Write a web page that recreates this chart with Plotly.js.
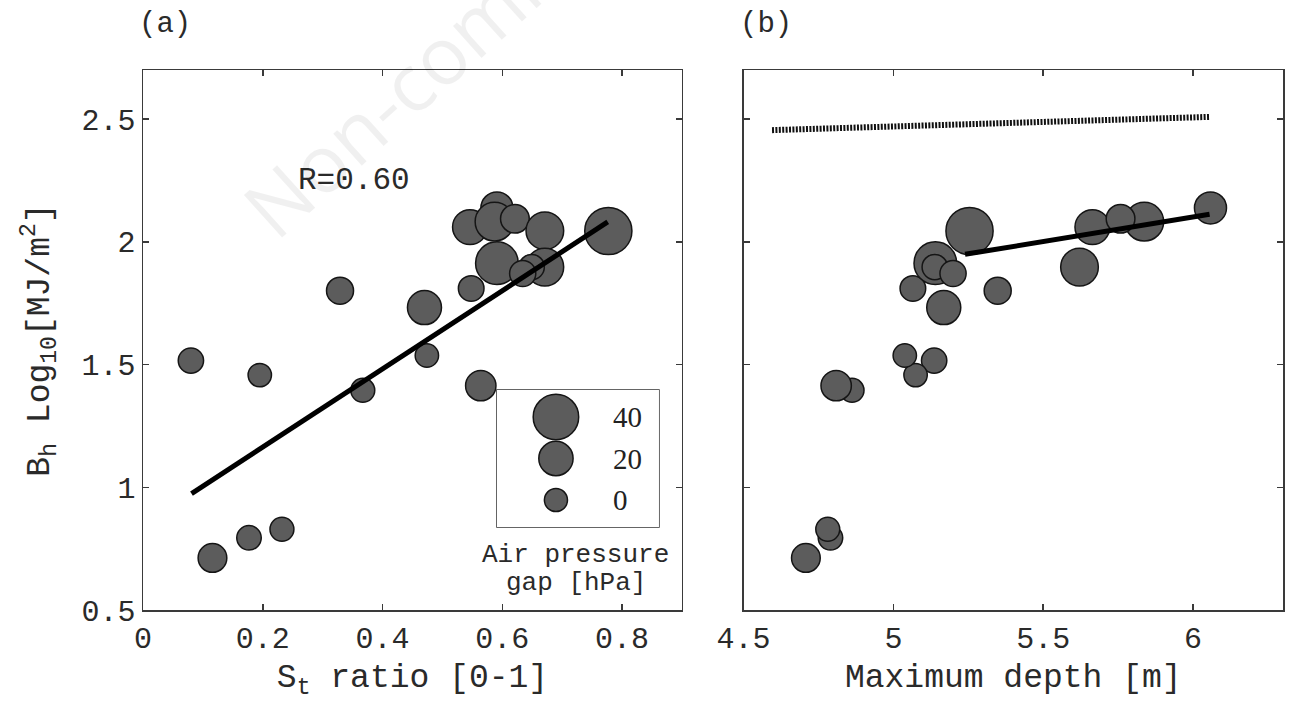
<!DOCTYPE html>
<html><head><meta charset="utf-8">
<script src="https://cdn.plot.ly/plotly-3.0.1.min.js"></script>
<style>html,body{margin:0;padding:0;background:#fff}#chart{width:1293px;height:703px}</style>
</head><body><div id="chart"></div>
<script>
// ---- data ----
const stRatio     = [0.080, 0.116, 0.177, 0.195, 0.232, 0.329, 0.367, 0.470, 0.474, 0.548, 0.546, 0.564, 0.591, 0.587, 0.621, 0.591, 0.671, 0.671, 0.649, 0.634, 0.777];
const bhLog       = [1.516, 0.712, 0.794, 1.457, 0.829, 1.801, 1.395, 1.732, 1.537, 1.810, 2.060, 1.414, 2.138, 2.082, 2.094, 1.913, 2.045, 1.897, 1.897, 1.871, 2.044];
const maxDepth    = [5.136, 4.708, 4.790, 5.074, 4.781, 5.348, 4.862, 5.168, 5.038, 5.065, 5.664, 4.809, 6.058, 5.837, 5.758, 5.140, 5.250, 5.621, 5.138, 5.199, 5.254];
const pressureGap = [4, 10, 2.5, 0.5, 1.5, 7, 1.5, 19.5, 0.5, 4.5, 21, 13, 16, 28, 10, 35, 26, 26, 4, 5.5, 43];

const fitA_x = [0.081, 0.776];
const fitA_y = [0.974, 2.081];
const fitB_x = [5.239, 6.055];
const fitB_y = [1.949, 2.112];
const refB_x = [4.595, 6.056];
const refB_y = [2.455, 2.509];

const legendGaps   = [40, 20, 0];
const legendLabels = ['40', '20', '0'];

const xTicksA = [0, 0.2, 0.4, 0.6, 0.8];
const xTickTextA = ['0', '0.2', '0.4', '0.6', '0.8'];
const xTicksB = [4.5, 5, 5.5, 6];
const xTickTextB = ['4.5', '5', '5.5', '6'];
const yTicks = [0.5, 1, 1.5, 2, 2.5];
const yTickText = ['0.5', '1', '1.5', '2', '2.5'];

// ---- styling ----
const mono = 'Liberation Mono, Courier New, monospace';
const markerFill = '#5c5c5c';
const sizeOf = g => 2 * (12.3 + 0.28 * g) - 1.5;   // diameter in px for a pressure gap
const sizes = pressureGap.map(sizeOf);
const markerStyle = {color: markerFill, size: sizes, sizemode: 'diameter', line: {color: '#151515', width: 1.5}, opacity: 1};

const axisBase = {
  showline: true, linecolor: '#3a3a3a', linewidth: 1.5, mirror: 'ticks',
  ticks: 'inside', ticklen: 6, tickwidth: 1.5, tickcolor: '#3a3a3a',
  showgrid: false, zeroline: false, fixedrange: true,
  tickfont: {family: mono, size: 30, color: '#2a2a2a'}
};

const traces = [
  {x: stRatio, y: bhLog, xaxis: 'x', yaxis: 'y', type: 'scatter', mode: 'markers', marker: markerStyle, hoverinfo: 'skip'},
  {x: fitA_x, y: fitA_y, xaxis: 'x', yaxis: 'y', type: 'scatter', mode: 'lines', line: {color: '#000', width: 5}, hoverinfo: 'skip'},
  {x: maxDepth, y: bhLog, xaxis: 'x2', yaxis: 'y2', type: 'scatter', mode: 'markers', marker: markerStyle, hoverinfo: 'skip'},
  {x: fitB_x, y: fitB_y, xaxis: 'x2', yaxis: 'y2', type: 'scatter', mode: 'lines', line: {color: '#000', width: 5}, hoverinfo: 'skip'},
  {x: refB_x, y: refB_y, xaxis: 'x2', yaxis: 'y2', type: 'scatter', mode: 'lines', line: {color: '#111', width: 6, dash: '2px,1.4px'}, hoverinfo: 'skip'},
  {x: legendGaps.map(() => 0.364), y: legendGaps, xaxis: 'x3', yaxis: 'y3', type: 'scatter', mode: 'markers',
   marker: {color: markerFill, size: legendGaps.map(sizeOf), sizemode: 'diameter', line: {color: '#151515', width: 1.5}, opacity: 1}, hoverinfo: 'skip'}
];

const annotations = [
  {text: '(a)', xref: 'paper', yref: 'paper', x: 0.0193, y: 1.085, showarrow: false, xanchor: 'center', yanchor: 'middle', font: {family: mono, size: 29, color: '#2a2a2a'}},
  {text: '(b)', xref: 'paper', yref: 'paper', x: 0.5465, y: 1.085, showarrow: false, xanchor: 'center', yanchor: 'middle', font: {family: mono, size: 29, color: '#2a2a2a'}},
  {text: 'R=0.60', xref: 'x', yref: 'y', x: 0.352, y: 2.248, showarrow: false, xanchor: 'center', yanchor: 'middle', font: {family: mono, size: 31, color: '#2a2a2a'}},
  {text: 'Air pressure', xref: 'paper', yref: 'paper', x: 0.3798, y: 0.1019, showarrow: false, xanchor: 'center', yanchor: 'middle', font: {family: mono, size: 26, color: '#2a2a2a'}},
  {text: 'gap [hPa]', xref: 'paper', yref: 'paper', x: 0.3798, y: 0.05, showarrow: false, xanchor: 'center', yanchor: 'middle', font: {family: mono, size: 26, color: '#2a2a2a'}},
  {text: 'Non-commercial', xref: 'paper', yref: 'paper', x: 0.30, y: 1.1056, showarrow: false, xanchor: 'center', yanchor: 'middle', textangle: -42, font: {family: 'Open Sans, sans-serif', size: 80, color: 'rgba(0,0,0,0.06)'}}
];
legendGaps.forEach((g, i) => annotations.push({
  text: legendLabels[i], xref: 'x3', yref: 'y3', x: 0.704, y: g, showarrow: false, xanchor: 'left', yanchor: 'middle',
  font: {family: 'Liberation Serif, Times New Roman, serif', size: 29, color: '#222'}
}));

const layout = {
  width: 1293, height: 703,
  margin: {l: 143, r: 10, t: 70, b: 93},
  paper_bgcolor: '#fff', plot_bgcolor: '#fff',
  showlegend: false,
  font: {family: mono, color: '#222'},
  xaxis: Object.assign({}, axisBase, {domain: [0, 0.4728], range: [0, 0.9], anchor: 'y', tickvals: xTicksA, ticktext: xTickTextA,
    title: {text: 'S<sub>t</sub> ratio [0-1]', font: {family: mono, size: 33, color: '#2a2a2a'}, standoff: 8}}),
  yaxis: Object.assign({}, axisBase, {domain: [0, 1], range: [0.5, 2.7], anchor: 'x', tickvals: yTicks, ticktext: yTickText,
    title: {text: 'B<sub>h</sub> Log<sub>10</sub>[MJ/m<sup>2</sup>]', font: {family: mono, size: 33, color: '#2a2a2a'}, standoff: 22}}),
  xaxis2: Object.assign({}, axisBase, {domain: [0.5268, 1], range: [4.5, 6.3], anchor: 'y2', tickvals: xTicksB, ticktext: xTickTextB,
    title: {text: 'Maximum depth [m]', font: {family: mono, size: 33, color: '#2a2a2a'}, standoff: 8}}),
  yaxis2: Object.assign({}, axisBase, {domain: [0, 1], range: [0.5, 2.7], anchor: 'x2', tickvals: yTicks, showticklabels: false}),
  xaxis3: {domain: [0.3105, 0.4526], range: [0, 1], anchor: 'y3', visible: false, fixedrange: true},
  yaxis3: {domain: [0.1537, 0.4074], range: [-13, 53], anchor: 'x3', visible: false, fixedrange: true},
  shapes: [
    {type: 'rect', xref: 'x3 domain', yref: 'y3 domain', x0: 0, x1: 1, y0: 0, y1: 1, line: {color: '#333', width: 1.5}, fillcolor: '#fff', layer: 'below'}
  ],
  annotations: annotations
};

Plotly.newPlot('chart', traces, layout, {displayModeBar: false, staticPlot: true});
</script>
</body></html>
